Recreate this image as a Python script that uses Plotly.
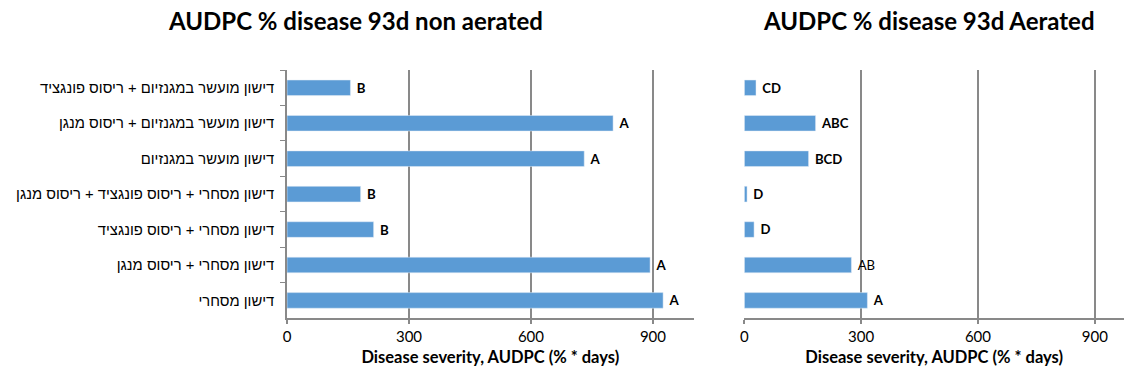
import plotly.graph_objects as go

# Treatments, listed top to bottom as they appear on the chart
treatments = [
    "דישון מועשר במגנזיום + ריסוס פונגציד",
    "דישון מועשר במגנזיום + ריסוס מנגן",
    "דישון מועשר במגנזיום",
    "דישון מסחרי + ריסוס פונגציד + ריסוס מנגן",
    "דישון מסחרי + ריסוס פונגציד",
    "דישון מסחרי + ריסוס מנגן",
    "דישון מסחרי",
]

# AUDPC values (% * days) and significance letters
non_aerated = [156, 802, 731, 181, 213, 893, 925]
non_aerated_letters = ["B", "A", "A", "B", "B", "A", "A"]

aerated = [30, 183, 165, 7, 25, 275, 316]
aerated_letters = ["CD", "ABC", "BCD", "D", "D", "AB", "A"]

x_ticks = [0, 300, 600, 900]

W, H = 1124, 381
BAR = "#5B9BD5"
GRID = "#898989"
FONT = "Lato"
GAP = "\u2005"  # small lead-in so the letters sit clear of the bar ends

fig = go.Figure()

fig.add_trace(go.Bar(
    y=treatments, x=non_aerated, orientation="h",
    marker_color=BAR, xaxis="x", yaxis="y",
    text=[GAP + "<b>%s</b>" % t for t in non_aerated_letters],
    textposition="outside", cliponaxis=False,
    textfont=dict(family=FONT, size=14.5, color="black"),
    showlegend=False,
))
fig.add_trace(go.Bar(
    y=treatments, x=aerated, orientation="h",
    marker_color=BAR, xaxis="x2", yaxis="y2",
    text=[GAP + (t if t == "AB" else "<b>%s</b>" % t) for t in aerated_letters],
    textposition="outside", cliponaxis=False,
    textfont=dict(family=FONT, size=13.5, color="black"),
    showlegend=False,
))

xcommon = dict(
    tickvals=x_ticks, ticktext=[str(v) for v in x_ticks],
    showgrid=True, gridcolor=GRID, gridwidth=1.5,
    showline=True, linecolor=GRID, linewidth=2,
    ticks="outside", ticklen=4, tickcolor=GRID, tickwidth=1.5,
    zeroline=False,
    tickfont=dict(family=FONT, size=15, color="black"),
    title_font=dict(family=FONT, size=16.5, color="black"),
    title_standoff=7,
)

fig.update_layout(
    width=W, height=H,
    margin=dict(l=0, r=0, t=0, b=0),
    paper_bgcolor="white", plot_bgcolor="white",
    bargap=0.56,
    xaxis=dict(domain=[0.2527, 0.6157], range=[0, 1000], anchor="y",
               title_text="<b>Disease severity, AUDPC (% * days)</b>", **xcommon),
    xaxis2=dict(domain=[0.661, 1.0], range=[0, 975], anchor="y2",
                title_text="<b>Disease severity, AUDPC (% * days)</b>", **xcommon),
    yaxis=dict(domain=[0.165, 0.816], anchor="x", autorange="reversed",
               showline=True, linecolor=GRID, linewidth=1.5,
               ticks="outside", ticklen=5, tickcolor=GRID, tickson="boundaries",
               ticklabelstandoff=8,
               tickfont=dict(family="Liberation Sans", size=14.8, color="black")),
    yaxis2=dict(domain=[0.165, 0.816], anchor="x2", autorange="reversed",
                showticklabels=False, showline=False, ticks=""),
    annotations=[
        dict(text="<b>AUDPC % disease 93d non aerated</b>",
             x=353 / W, y=1 - 20 / H, xref="paper", yref="paper",
             xanchor="center", yanchor="middle", showarrow=False,
             font=dict(family=FONT, size=24, color="black")),
        dict(text="<b>AUDPC % disease 93d Aerated</b>",
             x=928 / W, y=1 - 20 / H, xref="paper", yref="paper",
             xanchor="center", yanchor="middle", showarrow=False,
             font=dict(family=FONT, size=24, color="black")),
    ],
)

fig.write_html("out.html")
